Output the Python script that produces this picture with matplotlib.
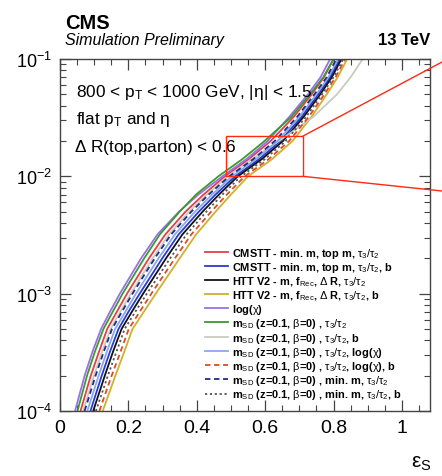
import matplotlib
matplotlib.use("Agg")
import matplotlib.pyplot as plt
from matplotlib.patches import Rectangle, ConnectionPatch
from matplotlib.ticker import MultipleLocator, LogLocator, NullFormatter

plt.rcParams['font.family'] = ['Liberation Sans', 'DejaVu Sans']
plt.rcParams['mathtext.fontset'] = 'custom'
plt.rcParams['mathtext.rm'] = 'Liberation Sans'
plt.rcParams['mathtext.it'] = 'Liberation Sans:italic'
plt.rcParams['mathtext.bf'] = 'Liberation Sans:bold'
plt.rcParams['mathtext.sf'] = 'Liberation Sans'

# background efficiency levels (y)
bkg_eff = [1e-4, 2e-4, 3.2e-4, 5e-4, 7e-4, 1e-3, 2e-3, 3.2e-3, 5e-3, 7e-3,
           1e-2, 1.4e-2, 2e-2, 3.2e-2, 5e-2, 7e-2, 1e-1]

# signal efficiency (x) for each tagger at the background levels above
sig_cmstt = [0.060, 0.090, 0.114, 0.138, 0.166, 0.196, 0.260, 0.308, 0.367, 0.420,
             0.482, 0.552, 0.616, 0.683, 0.736, 0.772, 0.800]
sig_cmstt_b = [0.089, 0.122, 0.146, 0.171, 0.200, 0.233, 0.299, 0.347, 0.406, 0.455,
               0.512, 0.582, 0.644, 0.706, 0.755, 0.790, 0.818]
sig_htt = [0.097, 0.131, 0.155, 0.180, 0.210, 0.243, 0.310, 0.358, 0.417, 0.465,
           0.520, 0.590, 0.652, 0.712, 0.761, 0.795, 0.823]
sig_htt_b = [0.125, 0.162, 0.188, 0.212, 0.245, 0.280, 0.350, 0.398, 0.455, 0.500,
             0.550, 0.620, 0.680, 0.735, 0.780, 0.812, 0.840]
sig_logchi = [0.044, 0.072, 0.095, 0.120, 0.146, 0.175, 0.237, 0.285, 0.348, 0.405,
              0.475, 0.545, 0.607, 0.670, 0.725, 0.762, 0.790]
sig_msd_tau = [0.051, 0.079, 0.102, 0.127, 0.154, 0.183, 0.246, 0.292, 0.350, 0.398,
               0.463, 0.533, 0.598, 0.676, 0.731, 0.770, 0.800]
sig_msd_tau_b = [0.068, 0.099, 0.123, 0.148, 0.176, 0.207, 0.271, 0.319, 0.378, 0.430,
                 0.491, 0.561, 0.640, 0.740, 0.810, 0.850, 0.885]
sig_msd_tau_chi = [0.080, 0.113, 0.137, 0.161, 0.191, 0.222, 0.288, 0.336, 0.395, 0.445,
                   0.503, 0.573, 0.636, 0.699, 0.750, 0.785, 0.813]
sig_msd_tau_chi_b = [0.115, 0.151, 0.177, 0.201, 0.233, 0.267, 0.336, 0.384, 0.442, 0.488,
                     0.540, 0.610, 0.670, 0.727, 0.773, 0.806, 0.834]
sig_msd_minm_tau = [0.072, 0.104, 0.128, 0.152, 0.181, 0.212, 0.277, 0.325, 0.384, 0.435,
                    0.495, 0.565, 0.628, 0.693, 0.744, 0.780, 0.808]
sig_msd_minm_tau_b = [0.105, 0.140, 0.165, 0.189, 0.220, 0.254, 0.322, 0.370, 0.428, 0.475,
                      0.529, 0.599, 0.660, 0.719, 0.766, 0.800, 0.828]

T32 = r"$\mathrm{\tau_3/\tau_2}$"
BETA = r"$\mathrm{\beta}$"
CHI = r"$\mathrm{\chi}$"
DR = r"$\mathrm{\Delta}$"
MSD = r"m$_{\rm SD}$ (z=0.1, " + BETA + "=0) , "
labels = [
    "CMSTT - min. m, top m, " + T32,
    "CMSTT - min. m, top m, " + T32 + ", b",
    r"HTT V2 - m, f$_{\rm Rec}$, " + DR + " R, " + T32,
    r"HTT V2 - m, f$_{\rm Rec}$, " + DR + " R, " + T32 + ", b",
    "log(" + CHI + ")",
    MSD + T32,
    MSD + T32 + ", b",
    MSD + T32 + ", log(" + CHI + ")",
    MSD + T32 + ", log(" + CHI + "), b",
    MSD + "min. m, " + T32,
    MSD + "min. m, " + T32 + ", b",
]
series = [sig_cmstt, sig_cmstt_b, sig_htt, sig_htt_b, sig_logchi, sig_msd_tau,
          sig_msd_tau_b, sig_msd_tau_chi, sig_msd_tau_chi_b, sig_msd_minm_tau,
          sig_msd_minm_tau_b]
colors = ['#e0404a', '#2a3ccc', '#111111', '#c9b234', '#9a70e6', '#3c9a2c',
          '#c8ccc0', '#8ca8ea', '#e24a1e', '#1c2c8c', '#555555']
styles = ['-', '-', '-', '-', '-', '-', '-', '-', (0, (3, 2)), (0, (3, 2)), (0, (1.2, 1.5))]

W, H = 442, 477
fig = plt.figure(figsize=(W / 100, H / 100), dpi=100)
ax = fig.add_axes([60 / W, 1 - 412 / H, 370 / W, 352 / H])

for s, lab, c, ls in zip(series, labels, colors, styles):
    ax.plot(s, bkg_eff, color=c, ls=ls, lw=1.3, label=lab)

ax.set_yscale('log')
ax.set_xlim(0, 1.082)
ax.set_ylim(1e-4, 1e-1)
ax.xaxis.set_minor_locator(MultipleLocator(0.05))
ax.yaxis.set_major_locator(LogLocator(base=10, numticks=10))
ax.yaxis.set_minor_locator(LogLocator(base=10, subs=range(2, 10), numticks=20))
ax.yaxis.set_minor_formatter(NullFormatter())
ax.set_xticks([0, 0.2, 0.4, 0.6, 0.8, 1.0])
ax.set_xticklabels(['0', '0.2', '0.4', '0.6', '0.8', '1'])
ax.tick_params(which='both', direction='in', top=True, right=True, labelsize=13,
               color='#444444')
ax.tick_params(axis='x', labelsize=14)
ax.tick_params(which='major', length=8, width=0.9, pad=6)
ax.tick_params(which='minor', length=4, width=0.8)
for sp in ax.spines.values():
    sp.set_color('#444444')
    sp.set_linewidth(1.0)

# zoom box and connector lines
box_x0, box_x1, box_y0, box_y1 = 0.485, 0.71, 0.01, 0.022
ax.add_patch(Rectangle((box_x0, box_y0), box_x1 - box_x0, box_y1 - box_y0,
                       fill=False, ec='#ff2a10', lw=1.0, zorder=5))
for yA, yB in [(box_y1, 1 - 63 / H), (box_y0, 1 - 192 / H)]:
    con = ConnectionPatch(xyA=(box_x1, yA), coordsA=ax.transData,
                          xyB=(1.0, yB), coordsB=fig.transFigure,
                          color='#ff2a10', lw=1.0)
    fig.add_artist(con)

leg = ax.legend(loc='upper left', bbox_to_anchor=((205 - 60) / 370, (412 - 247) / 352),
                frameon=False, fontsize=7.9, handlelength=2.1, handletextpad=0.35,
                labelspacing=0.02, borderpad=0, borderaxespad=0)
for t in leg.get_texts():
    t.set_fontweight('bold')

ax.text((76 - 60) / 370, (412 - 97) / 352,
        r"800 < p$_{\rm T}$ < 1000 GeV, |$\mathrm{\eta}$| < 1.5",
        transform=ax.transAxes, fontsize=12.4)
ax.text((76 - 60) / 370, (412 - 124) / 352, r"flat p$_{\rm T}$ and $\mathrm{\eta}$",
        transform=ax.transAxes, fontsize=12.4)
ax.text((74 - 60) / 370, (412 - 152) / 352, r"$\mathrm{\Delta}$ R(top,parton) < 0.6",
        transform=ax.transAxes, fontsize=12.4)

fig.text(65 / W, 1 - 29 / H, "CMS", fontsize=14.5, fontweight='bold')
fig.text(65 / W, 1 - 45 / H, "Simulation Preliminary", fontsize=11.5, style='italic')
fig.text(430 / W, 1 - 45 / H, "13 TeV", fontsize=12, fontweight='bold', ha='right')
fig.text(432 / W, 1 - 468 / H, r"$\mathrm{\varepsilon}_{\rm S}$", fontsize=15, ha='right')

fig.savefig('out.png', dpi=100)
